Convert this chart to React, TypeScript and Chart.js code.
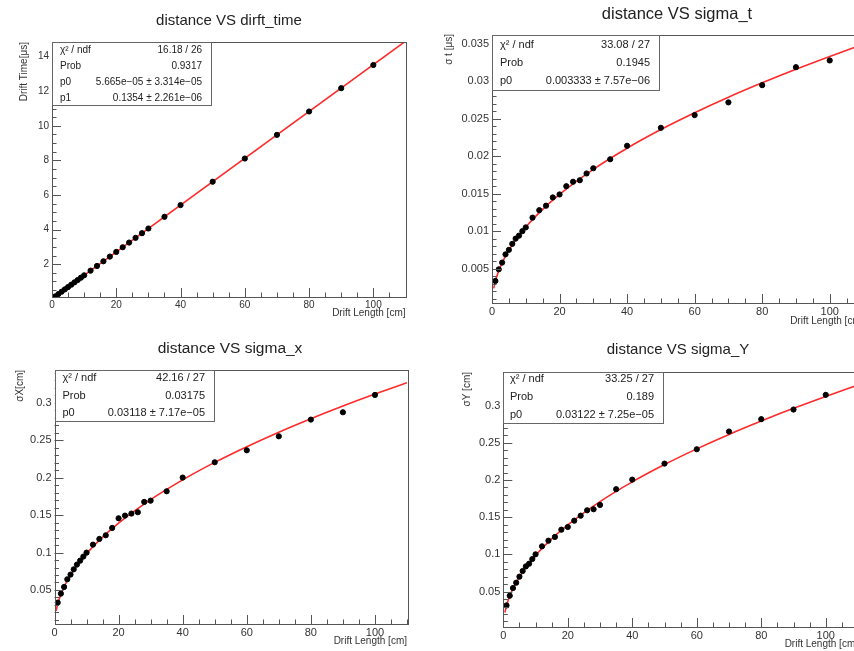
import React, { useEffect, useRef } from "react";
import { Chart, registerables } from "chart.js";

Chart.register(...registerables);
Chart.defaults.font.family = "'Liberation Sans', Arial, Helvetica, sans-serif";

// ---------- data ----------
const driftLength = [1, 2, 3, 4, 5, 6, 7, 8, 9, 10, 12, 14, 16, 18, 20, 22, 24, 26, 28, 30, 35, 40, 50, 60, 70, 80, 90, 100];

const driftTime = [0.136, 0.271, 0.407, 0.542, 0.677, 0.813, 0.948, 1.083, 1.219, 1.354, 1.625, 1.896, 2.166, 2.437, 2.708, 2.979, 3.25, 3.52, 3.791, 4.062, 4.74, 5.416, 6.77, 8.11, 9.478, 10.83, 12.18, 13.52];

const sigmaT = [0.00335, 0.0049, 0.0058, 0.0069, 0.0075, 0.0083, 0.009, 0.0094, 0.01, 0.0105, 0.0118, 0.0128, 0.0134, 0.0145, 0.0149, 0.016, 0.0166, 0.0168, 0.0177, 0.0184, 0.0196, 0.0214, 0.0238, 0.0255, 0.0272, 0.0295, 0.0319, 0.0328];

const sigmaX = [0.0331, 0.0451, 0.054, 0.0643, 0.0705, 0.0776, 0.0839, 0.0892, 0.0946, 0.0999, 0.1106, 0.1182, 0.1231, 0.1329, 0.1458, 0.1494, 0.1521, 0.1539, 0.1677, 0.1694, 0.1819, 0.2002, 0.2207, 0.2367, 0.2554, 0.2777, 0.2875, 0.3107];

const sigmaY = [0.0316, 0.0446, 0.0549, 0.0621, 0.0702, 0.0778, 0.084, 0.0876, 0.0939, 0.1002, 0.1109, 0.1185, 0.1235, 0.1333, 0.1369, 0.1454, 0.1521, 0.1593, 0.1607, 0.1665, 0.1876, 0.2005, 0.222, 0.2413, 0.2651, 0.2817, 0.2946, 0.3143];

// fit curves (red lines)
const fitTimeX = [0, 110];
const fitTime = [0.00006, 14.894];
const fitSqrtX = [0.5, 1, 2, 3, 4, 6, 8, 10, 14, 20, 30, 40, 50, 60, 70, 80, 90, 100, 110];
const fitSigmaT = [0.00236, 0.00333, 0.00471, 0.00577, 0.00667, 0.00816, 0.00943, 0.01054, 0.01247, 0.01491, 0.01826, 0.02108, 0.02357, 0.02582, 0.02789, 0.02981, 0.03162, 0.03333, 0.03496];
const fitSigmaX = [0.02205, 0.03118, 0.04409, 0.054, 0.06236, 0.07637, 0.08819, 0.0986, 0.1167, 0.1394, 0.1708, 0.1972, 0.2205, 0.2415, 0.2609, 0.2789, 0.2958, 0.3118, 0.327];
const fitSigmaY = [0.02208, 0.03122, 0.04415, 0.05407, 0.06244, 0.07647, 0.0883, 0.09873, 0.1168, 0.1396, 0.171, 0.1975, 0.2208, 0.2418, 0.2612, 0.2792, 0.2962, 0.3122, 0.3274];

// tick labels
const xTicks = [0, 20, 40, 60, 80, 100];
const timeTicks = [2, 4, 6, 8, 10, 12, 14];
const sigmaTTicks = [0.005, 0.01, 0.015, 0.02, 0.025, 0.03, 0.035];
const sigmaXYTicks = [0.05, 0.1, 0.15, 0.2, 0.25, 0.3];

// stats boxes
const statsTime = [["χ² / ndf", "16.18 / 26"], ["Prob", "0.9317"], ["p0", "5.665e−05 ± 3.314e−05"], ["p1", "0.1354 ± 2.261e−06"]];
const statsSigmaT = [["χ² / ndf", "33.08 / 27"], ["Prob", "0.1945"], ["p0", "0.003333 ± 7.57e−06"]];
const statsSigmaX = [["χ² / ndf", "42.16 / 27"], ["Prob", "0.03175"], ["p0", "0.03118 ± 7.17e−05"]];
const statsSigmaY = [["χ² / ndf", "33.25 / 27"], ["Prob", "0.189"], ["p0", "0.03122 ± 7.25e−05"]];

type PanelCfg = {
  left: number; top: number; w: number; h: number;
  area: { l: number; t: number; r: number; b: number };
  xMin: number; xMax: number; yMin: number; yMax: number;
  ys: number[]; fx: number[]; fy: number[];
  yTicks: number[]; yMinor: number; xMinor: number;
  title: string; titleX: number; titleY: number; titleSize: number;
  yTitle: string; yTitleX: number; yTitleTop: number;
  xTitleY: number;
  stats: string[][]; box: { x: number; y: number; w: number; h: number };
  rows: number[]; labelX: number; valueX: number; statSize: number;
  tickSize: number;
};

const panels: PanelCfg[] = [
  {
    left: 0, top: 0, w: 427, h: 325,
    area: { l: 52, t: 42, r: 405.5, b: 297 },
    xMin: 0, xMax: 110, yMin: 0.1, yMax: 14.85,
    ys: driftTime, fx: fitTimeX, fy: fitTime,
    yTicks: timeTicks, yMinor: 0.5, xMinor: 5,
    title: "distance VS dirft_time", titleX: 229, titleY: 21, titleSize: 15,
    yTitle: "Drift Time[μs]", yTitleX: 24, yTitleTop: 42,
    xTitleY: 313,
    stats: statsTime, box: { x: 52, y: 42, w: 159, h: 63 },
    rows: [50, 66, 82, 98], labelX: 60, valueX: 202, statSize: 10,
    tickSize: 10,
  },
  {
    left: 427, top: 0, w: 460, h: 335,
    area: { l: 492, t: 35, r: 863.5, b: 303 },
    xMin: 0, xMax: 110, yMin: 0.0004, yMax: 0.0362,
    ys: sigmaT, fx: fitSqrtX, fy: fitSigmaT,
    yTicks: sigmaTTicks, yMinor: 0.001, xMinor: 5,
    title: "distance VS sigma_t", titleX: 677, titleY: 14, titleSize: 16.5,
    yTitle: "σ t [μs]", yTitleX: 449, yTitleTop: 34,
    xTitleY: 321,
    stats: statsSigmaT, box: { x: 492, y: 35, w: 167, h: 55 },
    rows: [45, 63, 81], labelX: 500, valueX: 650, statSize: 11,
    tickSize: 11,
  },
  {
    left: 0, top: 325, w: 427, h: 326,
    area: { l: 54.5, t: 370, r: 407, b: 624 },
    xMin: 0, xMax: 110, yMin: 0.0045, yMax: 0.344,
    ys: sigmaX, fx: fitSqrtX, fy: fitSigmaX,
    yTicks: sigmaXYTicks, yMinor: 0.01, xMinor: 5,
    title: "distance VS sigma_x", titleX: 230, titleY: 349, titleSize: 15.5,
    yTitle: "σX[cm]", yTitleX: 20, yTitleTop: 370,
    xTitleY: 641,
    stats: statsSigmaX, box: { x: 54.5, y: 370, w: 158.5, h: 51 },
    rows: [378, 396, 413], labelX: 62.5, valueX: 205, statSize: 11,
    tickSize: 11,
  },
  {
    left: 427, top: 325, w: 460, h: 326,
    area: { l: 503.3, t: 372, r: 858, b: 627 },
    xMin: 0, xMax: 110, yMin: 0.0026, yMax: 0.345,
    ys: sigmaY, fx: fitSqrtX, fy: fitSigmaY,
    yTicks: sigmaXYTicks, yMinor: 0.01, xMinor: 5,
    title: "distance VS sigma_Y", titleX: 678, titleY: 350, titleSize: 15,
    yTitle: "σY [cm]", yTitleX: 467, yTitleTop: 372,
    xTitleY: 644,
    stats: statsSigmaY, box: { x: 503.3, y: 372, w: 159.7, h: 51 },
    rows: [379, 397, 415], labelX: 510, valueX: 654, statSize: 11,
    tickSize: 11,
  },
];

const FONT = "'Liberation Sans', Arial, Helvetica, sans-serif";

function Panel({ cfg }: { cfg: PanelCfg }) {
  const ref = useRef<HTMLCanvasElement>(null);
  useEffect(() => {
    const canvas = ref.current!;
    const ox = cfg.left;
    const oy = cfg.top;
    const decor = {
      id: "rootDecor",
      afterDraw(chart: any) {
        const ctx = chart.ctx as CanvasRenderingContext2D;
        const xs = chart.scales.x;
        const ys = chart.scales.y;
        const ca = chart.chartArea;
        ctx.save();
        // frame
        ctx.strokeStyle = "#555";
        ctx.lineWidth = 1;
        ctx.strokeRect(Math.round(ca.left) + 0.5, Math.round(ca.top) + 0.5, Math.round(ca.right - ca.left), Math.round(ca.bottom - ca.top));
        // x ticks (inside)
        ctx.beginPath();
        for (let v = cfg.xMin; v <= cfg.xMax + 1e-9; v += cfg.xMinor) {
          const major = xTicks.some((t) => Math.abs(t - v) < 1e-9);
          const px = Math.round(xs.getPixelForValue(v)) + 0.5;
          const len = major ? 9 : 4.5;
          ctx.moveTo(px, ca.bottom);
          ctx.lineTo(px, ca.bottom - len);
        }
        // y ticks (inside)
        const n = Math.round((cfg.yMax - 0) / cfg.yMinor);
        for (let k = 0; k <= n; k++) {
          const v = k * cfg.yMinor;
          if (v < cfg.yMin || v > cfg.yMax) continue;
          const major = cfg.yTicks.some((t) => Math.abs(t - v) < cfg.yMinor * 1e-3);
          const py = Math.round(ys.getPixelForValue(v)) + 0.5;
          const len = major ? 9 : 4.5;
          ctx.moveTo(ca.left, py);
          ctx.lineTo(ca.left + len, py);
        }
        ctx.stroke();

        // stats box
        const bx = cfg.box.x - ox, by = cfg.box.y - oy;
        ctx.fillStyle = "#fff";
        ctx.fillRect(bx, by, cfg.box.w, cfg.box.h);
        ctx.strokeStyle = "#666";
        ctx.strokeRect(Math.round(bx) + 0.5, Math.round(by) + 0.5, Math.round(cfg.box.w), Math.round(cfg.box.h));
        ctx.fillStyle = "#222";
        ctx.font = `${cfg.statSize}px ${FONT}`;
        ctx.textBaseline = "middle";
        cfg.stats.forEach((row, i) => {
          ctx.textAlign = "left";
          ctx.fillText(row[0], cfg.labelX - ox, cfg.rows[i] - oy);
          ctx.textAlign = "right";
          ctx.fillText(row[1], cfg.valueX - ox, cfg.rows[i] - oy);
        });

        // title
        ctx.fillStyle = "#222";
        ctx.font = `${cfg.titleSize}px ${FONT}`;
        ctx.textAlign = "center";
        ctx.fillText(cfg.title, cfg.titleX - ox, cfg.titleY - oy);

        // x axis title
        ctx.font = `10px ${FONT}`;
        ctx.fillStyle = "#333";
        ctx.textAlign = "right";
        ctx.fillText("Drift Length [cm]", cfg.area.r - ox, cfg.xTitleY - oy);

        // y axis title
        ctx.save();
        ctx.translate(cfg.yTitleX - ox, cfg.yTitleTop - oy);
        ctx.rotate(-Math.PI / 2);
        ctx.textAlign = "right";
        ctx.textBaseline = "middle";
        ctx.fillText(cfg.yTitle, 0, 0);
        ctx.restore();
        ctx.restore();
      },
    };

    const chart = new Chart(canvas, {
      type: "scatter",
      data: {
        datasets: [
          {
            data: driftLength.map((x, i) => ({ x, y: cfg.ys[i] })),
            backgroundColor: "#000",
            borderColor: "#000",
            pointRadius: 2.6,
            pointHoverRadius: 2.6,
            showLine: false,
          },
          {
            data: cfg.fx.map((x, i) => ({ x, y: cfg.fy[i] })),
            borderColor: "#ff2a2a",
            borderWidth: 1.6,
            pointRadius: 0,
            pointHoverRadius: 0,
            showLine: true,
            cubicInterpolationMode: "monotone",
            fill: false,
          } as any,
        ],
      },
      options: {
        responsive: false,
        animation: false,
        devicePixelRatio: 1,
        events: [],
        layout: {
          padding: {
            left: 0,
            top: cfg.area.t - oy,
            right: ox + cfg.w - cfg.area.r,
            bottom: 0,
          },
        },
        plugins: { legend: { display: false }, tooltip: { enabled: false } },
        scales: {
          x: {
            type: "linear",
            min: cfg.xMin,
            max: cfg.xMax,
            afterFit: (s: any) => { s.height = oy + cfg.h - cfg.area.b; },
            afterBuildTicks: (s: any) => { s.ticks = xTicks.map((v) => ({ value: v })); },
            grid: { display: false, drawTicks: false },
            border: { display: false },
            ticks: {
              padding: 2,
              color: "#333",
              font: { size: cfg.tickSize },
              maxRotation: 0,
              autoSkip: false,
              callback: (v: any) => String(v),
            },
          },
          y: {
            type: "linear",
            min: cfg.yMin,
            max: cfg.yMax,
            afterFit: (s: any) => { s.width = cfg.area.l - ox; },
            afterBuildTicks: (s: any) => { s.ticks = cfg.yTicks.map((v) => ({ value: v })); },
            grid: { display: false, drawTicks: false },
            border: { display: false },
            ticks: {
              padding: 3,
              color: "#333",
              font: { size: cfg.tickSize },
              autoSkip: false,
              callback: (v: any) => String(v),
            },
          },
        },
      },
      plugins: [decor],
    } as any);
    return () => chart.destroy();
  }, [cfg]);

  return (
    <canvas
      ref={ref}
      width={cfg.w}
      height={cfg.h}
      style={{ position: "absolute", left: cfg.left, top: cfg.top, width: cfg.w, height: cfg.h }}
    />
  );
}

export default function App() {
  return (
    <div
      style={{
        position: "fixed",
        left: 0,
        top: 0,
        width: 854,
        height: 651,
        overflow: "hidden",
        background: "#fff",
      }}
    >
      {panels.map((p, i) => (
        <Panel key={i} cfg={p} />
      ))}
    </div>
  );
}
